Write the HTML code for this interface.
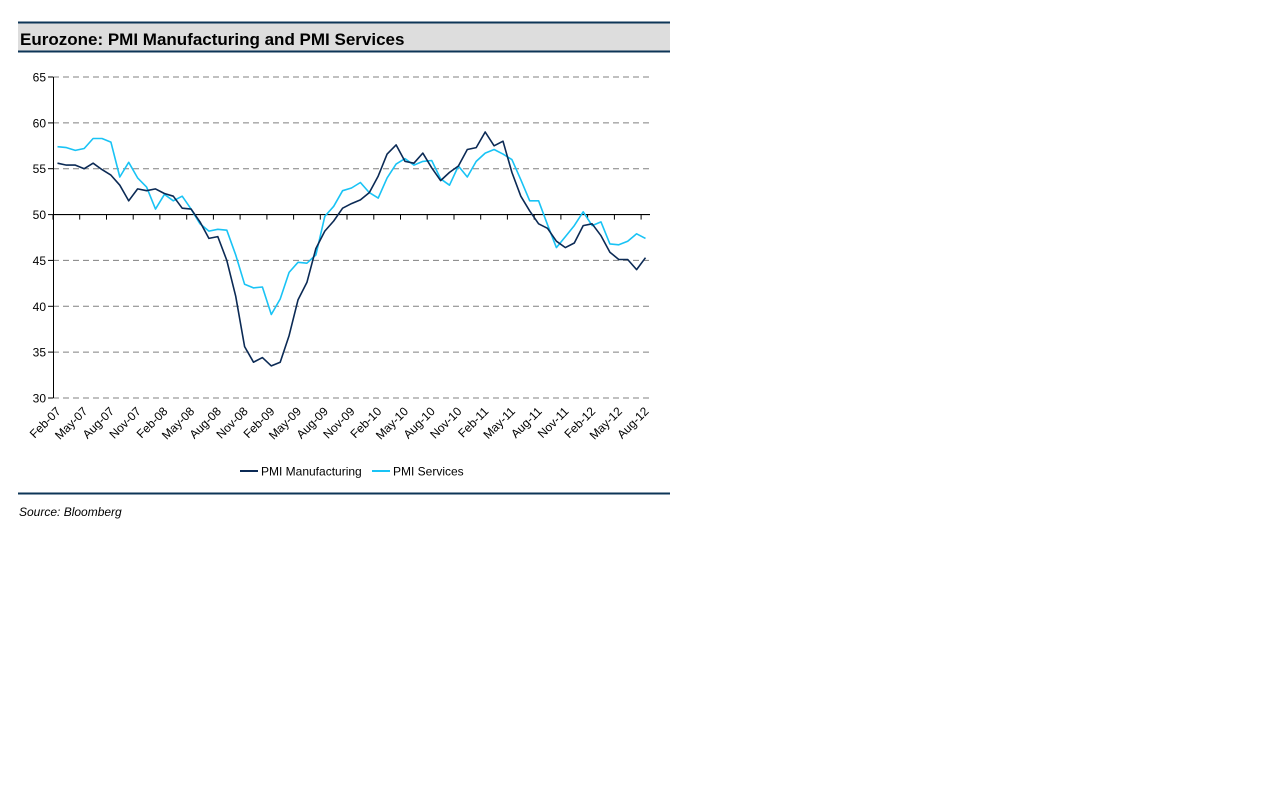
<!DOCTYPE html>
<html><head><meta charset="utf-8"><style>
body{margin:0;width:1267px;height:798px;background:#fff;font-family:"Liberation Sans",Arial,sans-serif;}
</style></head><body>
<svg width="1267" height="798" xmlns="http://www.w3.org/2000/svg" style="position:absolute;left:0;top:0">
<rect x="18" y="23" width="652" height="28" fill="#dddddd"/>
<line x1="18" y1="22.5" x2="670" y2="22.5" stroke="#0d3557" stroke-width="2"/>
<line x1="18" y1="51.5" x2="670" y2="51.5" stroke="#0d3557" stroke-width="2"/>
<text x="20" y="45" font-family="Liberation Sans, sans-serif" font-weight="bold" font-size="17" fill="#000">Eurozone: PMI Manufacturing and PMI Services</text>
<g id="grid" font-family="Liberation Sans, sans-serif" font-size="12" fill="#000"></g>
<polyline id="ser" fill="none" stroke="#19c3f5" stroke-width="1.6" stroke-linejoin="round"/>
<polyline id="mfg" fill="none" stroke="#0b2a55" stroke-width="1.6" stroke-linejoin="round"/>
<line x1="240" y1="471" x2="258" y2="471" stroke="#0b2a55" stroke-width="2"/>
<text x="261" y="475.5" font-family="Liberation Sans, sans-serif" font-size="12">PMI Manufacturing</text>
<line x1="372" y1="471" x2="390" y2="471" stroke="#19c3f5" stroke-width="2"/>
<text x="393" y="475.5" font-family="Liberation Sans, sans-serif" font-size="12">PMI Services</text>
<line x1="18" y1="493.5" x2="670" y2="493.5" stroke="#0d3557" stroke-width="2"/>
<text x="19" y="516" font-family="Liberation Sans, sans-serif" font-style="italic" font-size="12">Source: Bloomberg</text>
</svg>
<script>
var mfg=[55.6,55.4,55.4,55.0,55.6,54.9,54.3,53.2,51.5,52.8,52.6,
52.8,52.3,52.0,50.7,50.6,49.2,47.4,47.6,45.0,41.1,35.6,33.9,
34.4,33.5,33.9,36.8,40.7,42.6,46.3,48.2,49.3,50.7,51.2,51.6,
52.4,54.2,56.6,57.6,55.8,55.6,56.7,55.1,53.7,54.6,55.3,57.1,
57.3,59.0,57.5,58.0,54.6,52.0,50.4,49.0,48.5,47.1,46.4,46.9,
48.8,49.0,47.7,45.9,45.1,45.1,44.0,45.3];
var ser=[57.4,57.3,57.0,57.2,58.3,58.3,57.9,54.1,55.7,54.0,53.0,
50.6,52.2,51.5,52.0,50.6,49.0,48.2,48.4,48.3,45.6,42.4,42.0,
42.1,39.1,40.8,43.7,44.8,44.7,45.6,49.8,50.9,52.6,52.9,53.5,
52.4,51.8,54.0,55.5,56.1,55.4,55.8,55.9,53.9,53.2,55.3,54.1,
55.8,56.7,57.1,56.6,56.0,53.8,51.5,51.5,48.9,46.4,47.6,48.8,
50.3,48.8,49.2,46.8,46.7,47.1,47.9,47.4];
function Y(v){return 398-(v-30)*9.171;}
var x0=53,x1=650,n=67,dx=(x1-x0)/n;
function X(i){return x0+(i+0.5)*dx;}
function pts(a){return a.map(function(v,i){return X(i).toFixed(1)+","+Y(v).toFixed(1)}).join(" ");}
document.getElementById("mfg").setAttribute("points",pts(mfg));
document.getElementById("ser").setAttribute("points",pts(ser));
var g=document.getElementById("grid"),h="";
for(var v=30;v<=65;v+=5){var y=Y(v).toFixed(1);
 if(v!=50)h+='<line x1="53" y1="'+y+'" x2="650" y2="'+y+'" stroke="#808080" stroke-width="1" stroke-dasharray="6,4"/>';
 h+='<line x1="48" y1="'+y+'" x2="53" y2="'+y+'" stroke="#000"/>';
 h+='<text x="46" y="'+(+y+4.5)+'" text-anchor="end">'+v+'</text>';}
var y50=Y(50);
h+='<line x1="53" y1="'+y50+'" x2="650" y2="'+y50+'" stroke="#000" stroke-width="1.2"/>';
h+='<line x1="53.5" y1="77" x2="53.5" y2="398" stroke="#000"/>';
var mons=["Feb","May","Aug","Nov"];
for(var k=0;k<=22;k++){var tx=(x0+k*3*dx).toFixed(1);
 h+='<line x1="'+tx+'" y1="'+y50+'" x2="'+tx+'" y2="'+(y50+5)+'" stroke="#000"/>';}
for(var k=0;k<23;k++){var lx=X(k*3)+4,ly=412;
 var yr=7+Math.floor((k*3+1)/12);var lab=mons[k%4]+"-"+(yr<10?"0"+yr:yr);
 h+='<text transform="translate('+lx.toFixed(1)+','+ly+') rotate(-45)" text-anchor="end" font-size="12">'+lab+'</text>';}
g.innerHTML=h;
</script>
</body></html>
